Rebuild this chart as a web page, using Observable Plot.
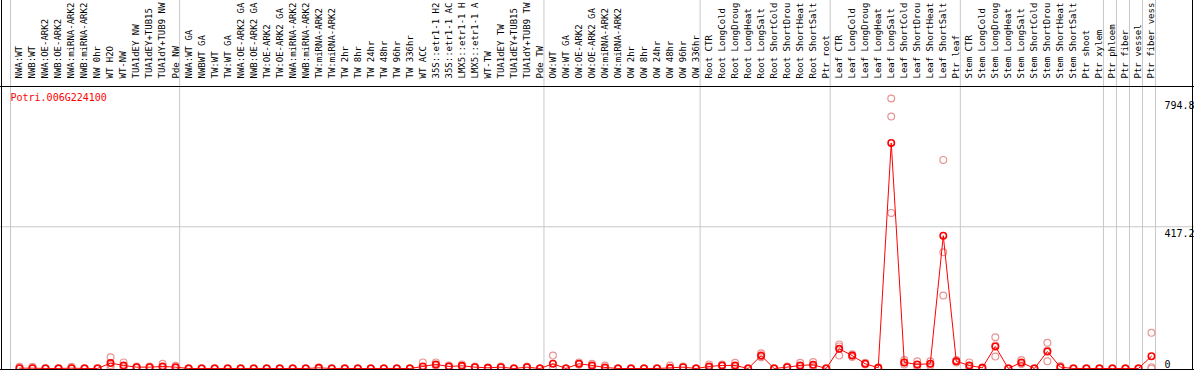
<!DOCTYPE html>
<html><head><meta charset="utf-8">
<script src="https://cdn.jsdelivr.net/npm/d3@7"></script>
<script src="https://cdn.jsdelivr.net/npm/@observablehq/plot@0.6"></script>
<style>
html,body{margin:0;padding:0;background:#fff}
#chart{width:1194px;height:370px;overflow:hidden}
</style>
</head><body><div id="chart"></div>
<script>
const geneId = "Potri.006G224100";

// Sample groups (separated by gray vertical lines); labels as shown (truncated) in the chart
const groupNW = ["NWA:WT","NWB:WT","NWA:OE-ARK2","NWB:OE-ARK2","NWA:miRNA-ARK2","NWB:miRNA-ARK2","NW 0hr","WT H2O","WT-NW","TUA1dEY NW","TUA1dEY+TUB15","TUA1dY+TUB9 NW","Pde NW"];
const groupTW = ["NWA:WT GA","NWBWT GA","TW:WT","TW:WT GA","NWA:OE-ARK2 GA","NWB:OE-ARK2 GA","TW:OE-ARK2","TW:OE-ARK2 GA","NWA:miRNA-ARK2","NWB:miRNA-ARK2","TW:miRNA-ARK2","TW:miRNA-ARK2","TW 2hr","TW 8hr","TW 24hr","TW 48hr","TW 96hr","TW 336hr","WT ACC","35S::etr1-1 H2","35S::etr1-1 AC","LMX5::etr1-1 H","LMX5::etr1-1 A","WT-TW","TUA1dEY TW","TUA1dEY+TUB15","TUA1dY+TUB9 TW","Pde TW"];
const groupOW = ["OW:WT","OW:WT GA","OW:OE-ARK2","OW:OE-ARK2 GA","OW:miRNA-ARK2","OW:miRNA-ARK2","OW 2hr","OW 8hr","OW 24hr","OW 48hr","OW 96hr","OW 336hr"];
const groupRoot = ["Root CTR","Root LongCold","Root LongDroug","Root LongHeat","Root LongSalt","Root ShortCold","Root ShortDrou","Root ShortHeat","Root ShortSalt","Ptr root"];
const groupLeaf = ["Leaf CTR","Leaf LongCold","Leaf LongDroug","Leaf LongHeat","Leaf LongSalt","Leaf ShortCold","Leaf ShortDrou","Leaf ShortHeat","Leaf ShortSalt","Ptr leaf"];
const groupStem = ["Stem CTR","Stem LongCold","Stem LongDroug","Stem LongHeat","Stem LongSalt","Stem ShortCold","Stem ShortDrou","Stem ShortHeat","Stem ShortSalt","Ptr shoot","Ptr xylem"];
const groupPhloem = ["Ptr phloem"];
const groupFiber = ["Ptr fiber"];
const groupVessel = ["Ptr vessel"];
const groupFiberVessel = ["Ptr fiber vess"];

// Mean expression per sample
const meansNW = [1,1,0,0,1,0,0,16,9,4,4,6,4];
const meansTW = [0,0,0,0,0,0,0,0,0,0,2,0,0,0,0,0,0,0,6,12,6,8,4,2,4,0,4,0];
const meansOW = [14,0,14,9,3,0,0,0,0,2,4,0];
const meansRoot = [6,9,9,0,38,0,4,9,11,0];
const meansLeaf = [58,38,14,2,664,18,12,14,391,21];
const meansStem = [9,2,65,0,18,0,50,4,0,0,0];
const meansTissue = [0,0,0,36];

// Replicate values per sample
const repsNW = [[5,0,0],[5,0,0],[0,0,1],[0,1,0],[5,0,0],[1,0,0],[0,0,1],[33,10,4],[18,5,4],[6,3,2],[6,3,2],[14,2,2],[8,2,1]];
const repsTW = [[0,0,0],[0,0,0],[0,0,0],[0,0,0],[0,0,0],[0,0,0],[0,0,0],[0,0,0],[0,0,0],[0,0,0],[3,1,2],[0,0,0],[0,0,0],[0,0,0],[0,0,0],[0,0,0],[0,0,0],[0,0,0],[18,0,0],[18,10,8],[9,5,4],[12,7,5],[6,3,3],[3,2,1],[6,3,3],[0,0,0],[6,3,3],[0,0,0]];
const repsOW = [[38,2,2],[0,0,0],[18,12,12],[14,7,6],[9,0,0],[0,0,0],[0,0,0],[0,0,0],[0,0,0],[9,0,0],[6,3,3],[0,0,0]];
const repsRoot = [[12,4,2],[12,8,7],[17,6,4],[0,0,0],[45,36,33],[0,0,0],[6,3,3],[17,6,4],[19,8,6],[0,0,0]];
const repsLeaf = [[71,65,38],[42,38,34],[17,13,12],[3,2,1],[794.8,742,458],[25,18,12],[21,10,5],[21,14,8],[614,342,215],[25,20,18]];
const repsStem = [[18,5,4],[3,2,1],[92,68,35],[0,0,0],[25,16,13],[0,0,0],[76,53,21],[7,3,2],[0,0,0],[0,0,0],[0,0,0]];
const repsTissue = [[0,0,0],[0,0,0],[0,0,0],[105,4,0]];

const yTickValues = [794.8, 417.2];
const yZeroTick = [0];
const gridValues = [417.2];

// ---- build table ----
const groups = [groupNW, groupTW, groupOW, groupRoot, groupLeaf, groupStem, groupPhloem, groupFiber, groupVessel, groupFiberVessel];
const labels = groups.flat();
const means = [meansNW, meansTW, meansOW, meansRoot, meansLeaf, meansStem, meansTissue].flat();
const reps = [repsNW, repsTW, repsOW, repsRoot, repsLeaf, repsStem, repsTissue].flat();
const samples = labels.map((label, i) => ({i, label, mean: means[i], reps: reps[i]}));
const repPoints = samples.flatMap(s => s.reps.map(v => ({i: s.i, v})));
const boundaries = [0];
groups.forEach(g => boundaries.push(boundaries[boundaries.length - 1] + g.length));
const N = labels.length;
const pos = d => d.i + 0.69;

const red = "#ff0000";
const pink = "#e89494";
const grid = "#c8c8c8";
const font = "DejaVu Sans Mono";

const plot = Plot.plot({
  width: 1194,
  height: 370,
  margin: 0,
  x: {type: "linear", domain: [0, N], range: [10, 1155], axis: null},
  y: {type: "linear", domain: [0, 794.8], range: [368, 98], axis: null},
  style: {background: "white", fontFamily: font},
  marks: [
    Plot.ruleX(boundaries, {x: d => d, stroke: grid, strokeWidth: 1}),
    Plot.ruleY(gridValues, {y: d => d, stroke: grid, strokeWidth: 1}),
    Plot.text(samples, {x: pos, frameAnchor: "top", dy: 78, rotate: -90, textAnchor: "start", lineAnchor: "middle", text: d => d.label, fontSize: 9, fill: "black"}),
    Plot.text([geneId], {frameAnchor: "top-left", dx: 10, dy: 97, textAnchor: "start", lineAnchor: "middle", text: d => d, fontSize: 10, fill: red}),
    Plot.text(yTickValues, {x: () => N, y: d => d, dx: 9, dy: 3, textAnchor: "start", lineAnchor: "top", text: d => String(d), fontSize: 10, fill: "black"}),
    Plot.text(yZeroTick, {x: () => N, y: d => d, dx: 9, dy: -1, textAnchor: "start", lineAnchor: "bottom", text: d => String(d), fontSize: 10, fill: "black"}),
    Plot.dot(repPoints, {x: pos, y: "v", r: 3.4, stroke: pink, strokeWidth: 1.2, fill: "none"}),
    Plot.line(samples, {x: pos, y: "mean", stroke: red, strokeWidth: 1}),
    Plot.dot(samples, {x: pos, y: "mean", r: 3.2, stroke: red, strokeWidth: 1.6, fill: "none"})
  ]
});

// frame lines (decoration)
const svg = d3.select(plot);
const frame = [
  [1.5, 0, 1.5, 370],
  [1192.5, 0, 1192.5, 370],
  [0, 86.5, 1194, 86.5],
  [0, 369.5, 1194, 369.5]
];
svg.append("g").selectAll("line").data(frame).join("line")
  .attr("x1", d => d[0]).attr("y1", d => d[1]).attr("x2", d => d[2]).attr("y2", d => d[3])
  .attr("stroke", "black").attr("stroke-width", 1);

document.getElementById("chart").appendChild(plot);
</script>
</body></html>
